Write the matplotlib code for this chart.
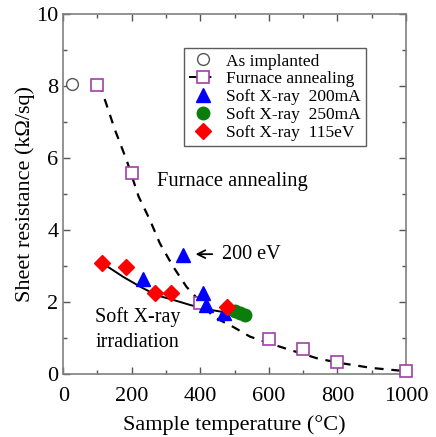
import matplotlib
matplotlib.use("Agg")
import matplotlib.pyplot as plt
from matplotlib.lines import Line2D
from matplotlib.ticker import MultipleLocator

plt.rcParams['font.family'] = ['Liberation Serif', 'DejaVu Serif']

# Data
as_impl_x = [25]
as_impl_y = [8.05]

furnace_x = [100, 200, 400, 600, 700, 800, 1000]
furnace_y = [8.03, 5.59, 1.98, 0.97, 0.70, 0.33, 0.09]

# dashed guide curve
furnace_fit_x = [100, 112, 151, 185, 220, 253, 282, 321, 360, 395, 438, 496, 545, 603, 662, 740, 800, 900, 1000]
furnace_fit_y = [8.05, 7.89, 6.78, 5.94, 4.93, 4.28, 3.63, 2.98, 2.42, 2.06, 1.59, 1.31, 1.04, 0.85, 0.67, 0.44, 0.32, 0.17, 0.08]

sx200_x = [234, 350, 409, 418, 468]
sx200_y = [2.63, 3.30, 2.24, 1.92, 1.69]

sx250_x = [500, 515, 530]
sx250_y = [1.76, 1.70, 1.64]

sx115_x = [112, 183, 268, 315, 477]
sx115_y = [3.09, 2.97, 2.26, 2.26, 1.87]

# solid guide curve for soft X-ray irradiation
soft_fit_x = [122, 175, 224, 272, 321, 370, 418, 463]
soft_fit_y = [3.03, 2.70, 2.43, 2.19, 2.06, 1.92, 1.80, 1.73]

legend_labels = ["As implanted", "Furnace annealing", "Soft X-ray  200mA",
                 "Soft X-ray  250mA", "Soft X-ray  115eV"]

purple = '#A040A8'
blue = '#0000FF'
green = '#0A7D0A'
red = '#FF0000'

fig = plt.figure(figsize=(4.36, 4.37), dpi=100)
ax = fig.add_axes([0.145, 0.144, 0.786, 0.824])

ax.plot(furnace_fit_x, furnace_fit_y, color='black', ls=(0, (4, 3.5)), lw=1.6, zorder=2)
ax.plot(soft_fit_x, soft_fit_y, color='black', ls='-', lw=1.4, zorder=2)

ax.plot(as_impl_x, as_impl_y, ls='none', marker='o', ms=8.5, mfc='white', mec='#555555', mew=1.0, zorder=3, clip_on=False)
ax.plot(furnace_x, furnace_y, ls='none', marker='s', ms=8.5, mfc='white', mec=purple, mew=1.2, zorder=3, clip_on=False)
ax.plot(sx200_x, sx200_y, ls='none', marker='^', ms=10, color=blue, zorder=4)
ax.plot(sx250_x, sx250_y, ls='none', marker='o', ms=9, color=green, zorder=4)
ax.plot(sx115_x, sx115_y, ls='none', marker='D', ms=8, color=red, zorder=5)

handles = [
    Line2D([], [], ls='none', marker='o', ms=8.5, mfc='white', mec='#555555', mew=1.0),
    Line2D([], [], ls=(0, (4, 3.5)), color='black', lw=1.4, marker='s', ms=8.5, mfc='white', mec=purple, mew=1.2),
    Line2D([], [], ls='none', marker='^', ms=10, color=blue),
    Line2D([], [], ls='none', marker='o', ms=9, color=green),
    Line2D([], [], ls='none', marker='D', ms=8, color=red),
]
leg = ax.legend(handles, legend_labels, loc='upper left', bbox_to_anchor=(0.353, 0.905),
                fontsize=12.5, frameon=True, fancybox=False, edgecolor='#333333',
                handlelength=1.6, handletextpad=0.5, labelspacing=0.1, borderpad=0.3,
                borderaxespad=0)
leg.get_frame().set_linewidth(1.0)
leg.set_zorder(6)

ax.text(273, 5.34, "Furnace annealing", fontsize=14.8, va='center', ha='left')
ax.annotate("", xy=(378, 3.33), xytext=(443, 3.33),
            arrowprops=dict(arrowstyle='->', color='black', lw=1.3, mutation_scale=14))
ax.text(462, 3.33, "200 eV", fontsize=14.5, va='center', ha='left')
ax.text(93, 1.57, "Soft X-ray", fontsize=14.5, va='center', ha='left')
ax.text(93, 0.875, "irradiation", fontsize=14.5, va='center', ha='left')

ax.set_xlim(0, 1000)
ax.set_ylim(0, 10)
ax.xaxis.set_major_locator(MultipleLocator(200))
ax.xaxis.set_minor_locator(MultipleLocator(100))
ax.yaxis.set_major_locator(MultipleLocator(2))
ax.yaxis.set_minor_locator(MultipleLocator(1))
ax.tick_params(which='both', direction='in', top=True, right=True, color='#555555', labelsize=16)
ax.tick_params(which='major', length=5, width=1)
ax.tick_params(which='minor', length=3, width=1)
ax.tick_params(axis='x', which='major', pad=9)
for s in ax.spines.values():
    s.set_color('#808080')
    s.set_linewidth(1.2)

ax.set_xlabel("Sample temperature (°C)", fontsize=16, labelpad=7)
ax.set_ylabel("Sheet resistance (kΩ/sq)", fontsize=16, labelpad=1)

fig.savefig("out.png", dpi=100)
